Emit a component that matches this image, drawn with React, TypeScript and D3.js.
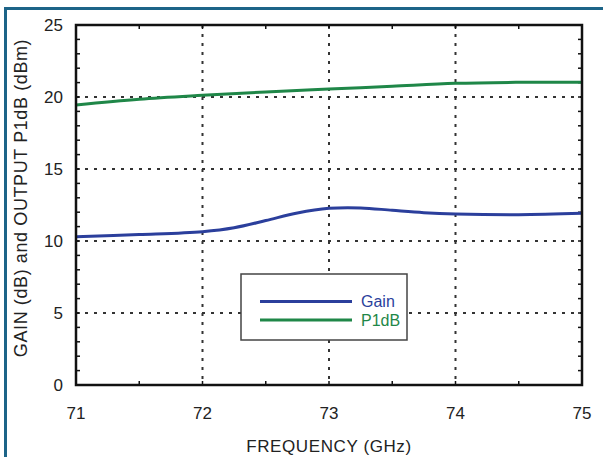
import React from 'react';
import * as d3 from 'd3';

// Frequency (GHz) sample points
const gainFreq = [71, 71.5, 72, 72.25, 72.5, 72.75, 73, 73.25, 73.5, 73.75, 74, 74.5, 75];
const gainValues = [10.3, 10.45, 10.65, 10.92, 11.42, 11.95, 12.27, 12.3, 12.13, 11.97, 11.88, 11.83, 11.92];
const p1dbFreq = [71, 71.5, 72, 72.5, 73, 73.5, 74, 74.5, 75];
const p1dbValues = [19.45, 19.85, 20.12, 20.35, 20.55, 20.75, 20.95, 21.02, 21.03];

const xTicks = [71, 72, 73, 74, 75];
const yTicks = [0, 5, 10, 15, 20, 25];

const W = 603;
const H = 457;
const left = 76, right = 582, top = 25, bottom = 385;
const FONT = "'Liberation Sans', Arial, sans-serif";
const BLUE = '#2b3f9c';
const GREEN = '#1f8748';

export default function App() {
  const x = d3.scaleLinear().domain([71, 75]).range([left, right]);
  const y = d3.scaleLinear().domain([0, 25]).range([bottom, top]);

  const line = d3.line<[number, number]>()
    .x(d => x(d[0]))
    .y(d => y(d[1]))
    .curve(d3.curveCatmullRom.alpha(0.5));

  const gainPath = line(gainFreq.map((f, i) => [f, gainValues[i]]) as [number, number][]) || '';
  const p1dbPath = line(p1dbFreq.map((f, i) => [f, p1dbValues[i]]) as [number, number][]) || '';

  const yMinor = d3.range(0, 26, 1);
  const xMinor = d3.range(71, 75.01, 0.5);

  // legend box
  const lg = { x0: 241, y0: 274, x1: 407, y1: 340 };

  return (
    <svg width={W} height={H} style={{ position: 'absolute', left: 0, top: 0, background: '#fff' }}
      fontFamily={FONT}>
      {/* frame */}
      <line x1={5} x2={W} y1={8.5} y2={8.5} stroke="#1d6488" strokeWidth={3} />
      <line x1={5.5} x2={5.5} y1={7} y2={H} stroke="#1d6488" strokeWidth={3} />

      {/* grid */}
      <g stroke="#333" strokeWidth={2} strokeDasharray="3,6">
        {yTicks.slice(1, -1).map(t => (
          <line key={'gy' + t} x1={left} x2={right} y1={y(t)} y2={y(t)} />
        ))}
        {xTicks.slice(1, -1).map(t => (
          <line key={'gx' + t} x1={x(t)} x2={x(t)} y1={top} y2={bottom} />
        ))}
      </g>

      {/* minor ticks */}
      <g stroke="#111" strokeWidth={1.5}>
        {yMinor.map(t => (
          <g key={'ym' + t}>
            <line x1={left} x2={left + 4} y1={y(t)} y2={y(t)} />
            <line x1={right - 4} x2={right} y1={y(t)} y2={y(t)} />
          </g>
        ))}
        {xMinor.map(t => (
          <g key={'xm' + t}>
            <line x1={x(t)} x2={x(t)} y1={top} y2={top + 4} />
            <line x1={x(t)} x2={x(t)} y1={bottom - 4} y2={bottom} />
          </g>
        ))}
      </g>

      {/* curves */}
      <path d={p1dbPath} fill="none" stroke={GREEN} strokeWidth={3} />
      <path d={gainPath} fill="none" stroke={BLUE} strokeWidth={3} />

      {/* plot frame */}
      <rect x={left} y={top} width={right - left} height={bottom - top} fill="none" stroke="#111" strokeWidth={2.5} />

      {/* legend */}
      <rect x={lg.x0} y={lg.y0} width={lg.x1 - lg.x0} height={lg.y1 - lg.y0} fill="#fff" stroke="#444" strokeWidth={1.5} />
      <line x1={260} x2={352} y1={301.5} y2={301.5} stroke={BLUE} strokeWidth={3} />
      <line x1={260} x2={352} y1={320} y2={320} stroke={GREEN} strokeWidth={3} />
      <text x={361} y={307} fontSize={16} fill={BLUE}>Gain</text>
      <text x={361} y={325.5} fontSize={16} fill={GREEN}>P1dB</text>

      {/* tick labels */}
      <g fontSize={17} fill="#222">
        {yTicks.map(t => (
          <text key={'yl' + t} x={63} y={y(t) + 6} textAnchor="end">{t}</text>
        ))}
        {xTicks.map(t => (
          <text key={'xl' + t} x={x(t)} y={419} textAnchor="middle">{t}</text>
        ))}
      </g>

      {/* axis titles */}
      <text x={329} y={452} fontSize={17} letterSpacing={0.6} fill="#222" textAnchor="middle">FREQUENCY (GHz)</text>
      <text transform={`translate(27,198) rotate(-90)`} fontSize={18} letterSpacing={0.6} fill="#222" textAnchor="middle">
        GAIN (dB) and OUTPUT P1dB (dBm)
      </text>
    </svg>
  );
}
